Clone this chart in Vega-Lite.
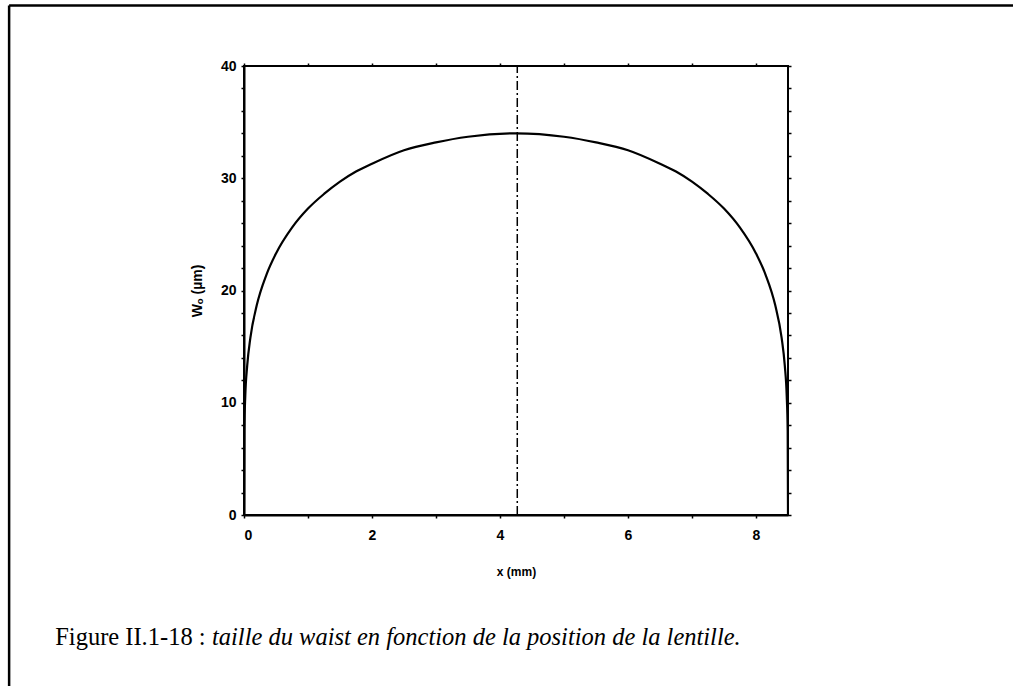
{
  "$schema": "https://vega.github.io/schema/vega-lite/v6.json",
  "width": 544,
  "height": 449,
  "autosize": {"type": "none"},
  "padding": {"left": 244, "top": 66, "right": 225, "bottom": 171},
  "background": "white",
  "config": {
    "view": {"stroke": "black", "strokeWidth": 2},
    "axis": {
      "labelFont": "Liberation Sans",
      "labelFontWeight": "bold",
      "labelFontSize": 14,
      "labelColor": "black",
      "titleFont": "Liberation Sans",
      "titleFontWeight": "bold",
      "titleFontSize": 12,
      "titleColor": "black",
      "domainColor": "black",
      "domainWidth": 2,
      "tickColor": "black",
      "tickWidth": 1.5,
      "tickSize": 3,
      "grid": false
    }
  },
  "datasets": {
    "curve": [
      {"x": 0, "w": 0},
      {"x": 0.005, "w": 7.5},
      {"x": 0.02, "w": 10.6},
      {"x": 0.05, "w": 13.3},
      {"x": 0.1, "w": 15.8},
      {"x": 0.2, "w": 18.7},
      {"x": 0.35, "w": 21.4},
      {"x": 0.5, "w": 23.3},
      {"x": 0.75, "w": 25.6},
      {"x": 1.0, "w": 27.3},
      {"x": 1.25, "w": 28.6},
      {"x": 1.5, "w": 29.7},
      {"x": 1.75, "w": 30.6},
      {"x": 2.0, "w": 31.3},
      {"x": 2.5, "w": 32.5},
      {"x": 3.0, "w": 33.2},
      {"x": 3.5, "w": 33.7},
      {"x": 4.25, "w": 34.0},
      {"x": 5.0, "w": 33.7},
      {"x": 5.5, "w": 33.2},
      {"x": 6.0, "w": 32.5},
      {"x": 6.5, "w": 31.3},
      {"x": 6.75, "w": 30.6},
      {"x": 7.0, "w": 29.7},
      {"x": 7.25, "w": 28.6},
      {"x": 7.5, "w": 27.3},
      {"x": 7.75, "w": 25.6},
      {"x": 8.0, "w": 23.3},
      {"x": 8.15, "w": 21.4},
      {"x": 8.3, "w": 18.7},
      {"x": 8.4, "w": 15.8},
      {"x": 8.45, "w": 13.3},
      {"x": 8.48, "w": 10.6},
      {"x": 8.495, "w": 7.5},
      {"x": 8.5, "w": 0}
    ],
    "single": [{}]
  },
  "resolve": {"axis": {"x": "independent", "y": "independent"}},
  "layer": [
    {
      "data": {"name": "curve"},
      "mark": {"type": "line", "color": "black", "strokeWidth": 2.2, "interpolate": "monotone", "clip": true},
      "encoding": {
        "x": {
          "field": "x", "type": "quantitative",
          "scale": {"domain": [0, 8.5], "nice": false, "zero": false},
          "axis": {
            "orient": "bottom",
            "values": [0, 1, 2, 3, 4, 5, 6, 7, 8],
            "labelExpr": "datum.value % 2 == 0 ? datum.label : ''",
            "labelPadding": 10,
            "title": "x (mm)",
            "titlePadding": 24
          }
        },
        "y": {
          "field": "w", "type": "quantitative",
          "scale": {"domain": [0, 40], "nice": false},
          "axis": {
            "orient": "left",
            "values": [0, 2, 4, 6, 8, 10, 12, 14, 16, 18, 20, 22, 24, 26, 28, 30, 32, 34, 36, 38, 40],
            "labelExpr": "datum.value % 10 == 0 ? datum.label : ''",
            "labelPadding": 5,
            "title": "Wₒ (µm)",
            "titleFontSize": 14,
            "titlePadding": 16
          }
        }
      }
    },
    {
      "data": {"name": "single"},
      "mark": {"type": "rule", "color": "black", "strokeWidth": 1.5, "strokeDash": [9, 3, 2, 3]},
      "encoding": {
        "x": {
          "datum": 4.27, "type": "quantitative",
          "axis": {
            "orient": "top",
            "values": [0, 1, 2, 3, 4, 5, 6, 7, 8],
            "labels": false, "domain": false, "title": null
          }
        },
        "y": {
          "datum": 0, "type": "quantitative",
          "axis": {
            "orient": "right",
            "values": [0, 2, 4, 6, 8, 10, 12, 14, 16, 18, 20, 22, 24, 26, 28, 30, 32, 34, 36, 38, 40],
            "labels": false, "domain": false, "title": null
          }
        },
        "y2": {"datum": 40}
      }
    },
    {
      "data": {"name": "single"},
      "mark": {"type": "rule", "color": "black", "strokeWidth": 2.5, "clip": false},
      "encoding": {
        "x": {"datum": -3.67, "type": "quantitative", "axis": null},
        "y": {"datum": 45.4, "type": "quantitative", "axis": null},
        "y2": {"datum": -15.3}
      }
    },
    {
      "data": {"name": "single"},
      "mark": {"type": "rule", "color": "black", "strokeWidth": 2.5, "clip": false},
      "encoding": {
        "x": {"datum": -3.67, "type": "quantitative", "axis": null},
        "x2": {"datum": 12.05},
        "y": {"datum": 45.4, "type": "quantitative", "axis": null}
      }
    },
    {
      "data": {"name": "single"},
      "mark": {"type": "text", "font": "Liberation Serif", "fontSize": 24.5, "color": "black", "align": "left", "baseline": "alphabetic", "clip": false},
      "encoding": {
        "x": {"datum": -2.95, "type": "quantitative", "axis": null},
        "y": {"datum": -11.55, "type": "quantitative", "axis": null},
        "text": {"value": "Figure II.1-18 :"}
      }
    },
    {
      "data": {"name": "single"},
      "mark": {"type": "text", "font": "Liberation Serif", "fontSize": 24.5, "fontStyle": "italic", "color": "black", "align": "left", "baseline": "alphabetic", "clip": false},
      "encoding": {
        "x": {"datum": -0.5, "type": "quantitative", "axis": null},
        "y": {"datum": -11.55, "type": "quantitative", "axis": null},
        "text": {"value": "taille du waist en fonction de la position de la lentille."}
      }
    }
  ]
}
